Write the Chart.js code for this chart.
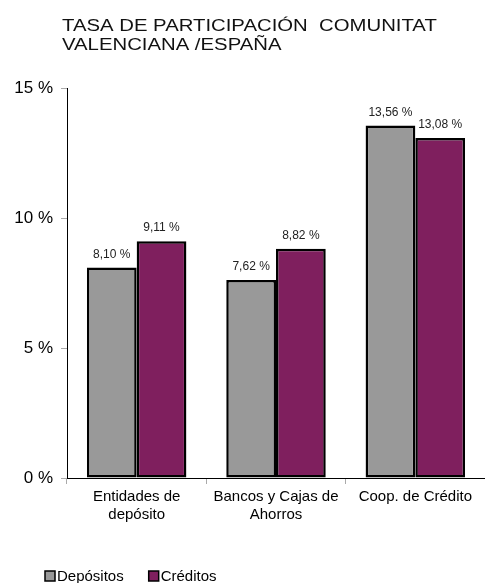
<!DOCTYPE html>
<html lang="es">
  <head>
    <meta charset="UTF-8" />
    <title>Tasa de participación</title>
    <style>
      html, body { margin: 0; padding: 0; background: #fff; }
      .Wrap { position: relative; width: 485px; height: 583px; }
    </style>
  </head>
  <body>
    <div class="Wrap">
      <canvas id="barChart"></canvas>
    </div>
    <script src="https://cdn.jsdelivr.net/npm/chart.js"></script>
    <script>
      const titleLines = ["TASA DE PARTICIPACIÓN  COMUNITAT", "VALENCIANA /ESPAÑA"];
      const categories = [["Entidades de", "depósito"], ["Bancos y Cajas de", "Ahorros"], "Coop. de Crédito"];
      const depositos = [8.10, 7.62, 13.56];
      const creditos = [9.11, 8.82, 13.08];
      const yTicks = [0, 5, 10, 15];

      const FONT = "'Liberation Sans', Arial, sans-serif";

      // title drawn by hand so it can sit over the plot's left edge
      const titlePlugin = {
        id: "titleText",
        afterDraw(chart) {
          const ctx = chart.ctx;
          const x = chart.chartArea.left - 5;
          ctx.save();
          ctx.fillStyle = "#111";
          ctx.font = "16px " + FONT;
          ctx.textBaseline = "alphabetic";
          titleLines.forEach((line, i) => {
            ctx.save();
            ctx.translate(x, 31 + i * 19);
            ctx.scale(1.27, 1);
            ctx.fillText(line, 0, 0);
            ctx.restore();
          });
          ctx.restore();
        },
      };

      const valueLabels = {
        id: "valueLabels",
        afterDatasetsDraw(chart) {
          const ctx = chart.ctx;
          ctx.save();
          ctx.font = "12px " + FONT;
          ctx.fillStyle = "#222";
          ctx.textAlign = "center";
          ctx.textBaseline = "bottom";
          chart.data.datasets.forEach((ds, i) => {
            chart.getDatasetMeta(i).data.forEach((bar, j) => {
              const txt = ds.data[j].toFixed(2).replace(".", ",") + " %";
              ctx.fillText(txt, bar.x, bar.y - 7);
            });
          });
          ctx.restore();
        },
      };

      const bottomLegend = {
        id: "bottomLegend",
        afterDraw(chart) {
          const ctx = chart.ctx;
          let x = 45;
          const y = 576;
          ctx.save();
          ctx.font = "15px " + FONT;
          ctx.textBaseline = "middle";
          chart.data.datasets.forEach((ds) => {
            ctx.fillStyle = ds.backgroundColor;
            ctx.fillRect(x, y - 5, 10, 10);
            ctx.strokeStyle = "#000";
            ctx.lineWidth = 1.5;
            ctx.strokeRect(x, y - 5, 10, 10);
            ctx.fillStyle = "#000";
            ctx.fillText(ds.label, x + 12, y + 1);
            x += 12 + ctx.measureText(ds.label).width + 25;
          });
          ctx.restore();
        },
      };

      new Chart(document.getElementById("barChart"), {
        type: "bar",
        data: {
          labels: categories,
          datasets: [
            {
              label: "Depósitos",
              data: depositos,
              backgroundColor: "#999999",
              borderColor: "#000",
              borderWidth: 2.5,
              borderSkipped: false,
            },
            {
              label: "Créditos",
              data: creditos,
              backgroundColor: "#7f1f5e",
              borderColor: "#000",
              borderWidth: 2.5,
              borderSkipped: false,
            },
          ],
        },
        plugins: [titlePlugin, valueLabels, bottomLegend],
        options: {
          responsive: true,
          maintainAspectRatio: false,
          animation: false,
          layout: { padding: { top: 88, left: 4, right: 0, bottom: 55 } },
          datasets: { bar: { barPercentage: 1, categoryPercentage: 0.714 } },
          plugins: {
            legend: { display: false },
            title: { display: false },
            tooltip: { enabled: false },
          },
          scales: {
            x: {
              grid: { drawOnChartArea: false, tickLength: 6, color: "#aaa" },
              border: { color: "#000", width: 1 },
              ticks: { color: "#000", font: { family: FONT, size: 15 }, maxRotation: 0, padding: 4 },
            },
            y: {
              min: 0,
              max: 15,
              afterBuildTicks(axis) {
                axis.ticks = yTicks.map((v) => ({ value: v }));
              },
              afterFit(axis) {
                axis.width = 63;
              },
              grid: { drawOnChartArea: false, tickLength: 6, color: "#aaa" },
              border: { color: "#000", width: 1 },
              ticks: {
                color: "#000",
                font: { family: FONT, size: 17 },
                padding: 8,
                callback: (v) => v + " %",
              },
            },
          },
        },
      });
    </script>
  </body>
</html>
